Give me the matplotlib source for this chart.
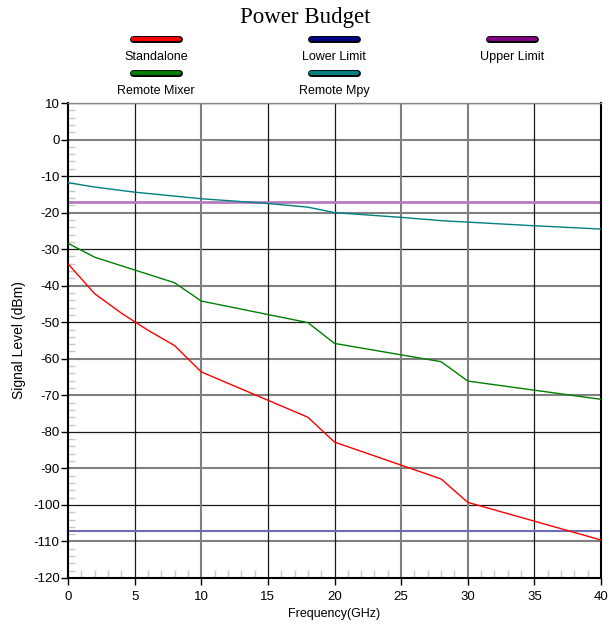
"""Power budget chart: signal level vs frequency."""
import numpy as np
import matplotlib
matplotlib.use("Agg")
import matplotlib.pyplot as plt
from matplotlib.lines import Line2D
import matplotlib.patheffects as pe

# --- data ---
freq_standalone = [0, 2, 4, 6, 8, 10, 18, 20, 28, 30, 40]
level_standalone = [-34.0, -42.2, -47.5, -52.2, -56.4, -63.6, -76.0, -82.8, -92.9, -99.3, -109.6]

freq_mixer = [0, 2, 8, 10, 18, 20, 28, 30, 40]
level_mixer = [-28.4, -32.2, -39.2, -44.2, -50.1, -55.8, -60.8, -66.1, -71.1]

freq_mpy = [0, 2, 5, 10, 15, 18, 20, 25, 28, 30, 35, 40]
level_mpy = [-11.8, -13.0, -14.4, -16.2, -17.5, -18.5, -20.0, -21.3, -22.2, -22.6, -23.6, -24.5]

lower_limit = -107.1
upper_limit = -17.1

x_ticks = [0, 5, 10, 15, 20, 25, 30, 35, 40]
y_ticks = list(range(-120, 11, 10))

COLORS = {
    "Standalone": "#ff0000",
    "Lower Limit": "#000080",
    "Upper Limit": "#800080",
    "Remote Mixer": "#008000",
    "Remote Mpy": "#008080",
}

plt.rcParams["font.family"] = ["Liberation Sans", "DejaVu Sans"]
plt.rcParams["axes.unicode_minus"] = False

fig = plt.figure(figsize=(6.10, 6.27), dpi=100)
ax = fig.add_axes([68 / 610, 1 - 578 / 627, 533 / 610, 475 / 627])

# grid, drawn by hand so the mixed grey/black look of the original survives
gray_y = {0, -20, -40, -60, -70, -90, -110}
for y in y_ticks[1:]:
    if y in gray_y:
        ax.axhline(y, color="#808080", lw=1.5, zorder=1)
    else:
        ax.axhline(y, color="#1a1a1a", lw=0.9, zorder=1)
gray_x = {10, 25, 30}
for x in x_ticks[1:-1]:
    if x in gray_x:
        ax.axvline(x, color="#808080", lw=1.5, zorder=1)
    else:
        ax.axvline(x, color="#1a1a1a", lw=0.9, zorder=1)

ax.axhline(upper_limit, color="#b57cc0", lw=2.0, zorder=2)
ax.axhline(lower_limit, color="#6d6db5", lw=1.5, zorder=2)
ax.plot(freq_mpy, level_mpy, color=COLORS["Remote Mpy"], lw=1.0, zorder=3)
ax.plot(freq_mixer, level_mixer, color=COLORS["Remote Mixer"], lw=1.0, zorder=3)
ax.plot(freq_standalone, level_standalone, color=COLORS["Standalone"], lw=1.0, zorder=3)

ax.set_xlim(0, 40)
ax.set_ylim(-120, 10)
ax.set_xticks(x_ticks)
ax.set_yticks(y_ticks)
ax.set_xticks(np.arange(1, 40, 1), minor=True)
ax.set_yticks(np.arange(-118, 10, 2), minor=True)
ax.tick_params(which="major", direction="out", length=5, width=1.0, color="black",
               labelsize=9.5, pad=1)
ax.tick_params(axis="x", which="major", pad=4)
ax.tick_params(which="minor", direction="in", length=6, width=1.0, color="#c8c8c8")
ax.tick_params(axis="y", which="minor", length=5)

for side in ("left", "bottom", "right"):
    ax.spines[side].set_color("black")
    ax.spines[side].set_linewidth(1.5)
ax.spines["top"].set_color("#8a8a8a")
ax.spines["top"].set_linewidth(1.0)

ax.set_xlabel("Frequency(GHz)", fontsize=9, labelpad=4)
ax.set_ylabel("Signal Level (dBm)", fontsize=10, labelpad=5)

fig.text(0.5, 1 - 17 / 627, "Power Budget", ha="center", va="center",
         fontsize=16.5, family=["Liberation Serif", "DejaVu Serif"])

# legend built by hand: line above label, three columns
legend_items = [
    ("Standalone", 156, 39), ("Lower Limit", 334, 39), ("Upper Limit", 512, 39),
    ("Remote Mixer", 156, 73), ("Remote Mpy", 334, 73),
]
for name, cx, cy in legend_items:
    yf = 1 - cy / 627
    line = Line2D([(cx - 23) / 610, (cx + 23) / 610], [yf, yf],
                  transform=fig.transFigure, color=COLORS[name], lw=3.0,
                  solid_capstyle="round",
                  path_effects=[pe.Stroke(linewidth=5.0, foreground="black",
                                          capstyle="round"), pe.Normal()])
    fig.add_artist(line)
    fig.text(cx / 610, 1 - (cy + 18) / 627, name, ha="center", va="center",
             fontsize=9)

fig.savefig("out.png", dpi=100)
